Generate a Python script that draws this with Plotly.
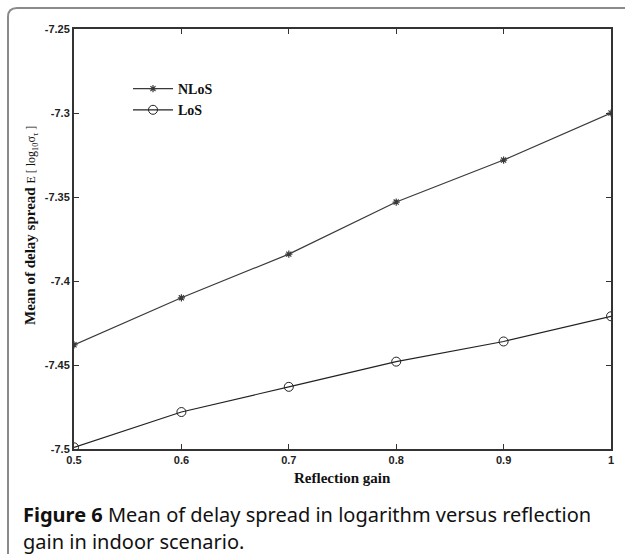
import plotly.graph_objects as go

# Reflection gain sweep and mean log delay spread
reflection_gain = [0.5, 0.6, 0.7, 0.8, 0.9, 1.0]
nlos_mean = [-7.438, -7.410, -7.384, -7.353, -7.328, -7.300]
los_mean = [-7.499, -7.478, -7.463, -7.448, -7.436, -7.421]

x_ticks = [0.5, 0.6, 0.7, 0.8, 0.9, 1.0]
x_tick_text = ["0.5", "0.6", "0.7", "0.8", "0.9", "1"]
y_ticks = [-7.5, -7.45, -7.4, -7.35, -7.3, -7.25]
y_tick_text = ["-7.5", "-7.45", "-7.4", "-7.35", "-7.3", "-7.25"]

W, H = 625, 554
L, R, T, B = 74, 14, 29, 105
pw, ph = W - L - R, H - T - B


def px_to_paper_x(px):
    return (px - L) / pw


def px_to_paper_y(py):
    return (H - B - py) / ph


def bold(labels):
    return [f"<b>{s}</b>" for s in labels]


fig = go.Figure()
fig.add_trace(go.Scatter(
    x=reflection_gain, y=nlos_mean, name="<b>NLoS</b>", mode="lines+markers",
    line=dict(color="#3a3a3a", width=1.2),
    marker=dict(symbol="asterisk-open", size=6, color="#3a3a3a",
                line=dict(color="#3a3a3a", width=1.2)),
))
fig.add_trace(go.Scatter(
    x=reflection_gain, y=los_mean, name="<b>LoS</b>", mode="lines+markers",
    line=dict(color="#222222", width=1.2),
    marker=dict(symbol="circle-open", size=9, color="#222222",
                line=dict(color="#222222", width=1)),
))

axis_common = dict(
    showgrid=False, zeroline=False, showline=True, linewidth=2,
    linecolor="#333333", mirror="ticks", ticks="inside", ticklen=5,
    tickwidth=1, tickcolor="#333333",
    tickfont=dict(family="Liberation Sans", size=11, color="#222222"),
)

fig.update_xaxes(range=[0.5, 1.0], tickvals=x_ticks,
                 ticktext=bold(x_tick_text), **axis_common)
fig.update_yaxes(range=[-7.5, -7.25], tickvals=y_ticks,
                 ticktext=bold(y_tick_text), **axis_common)

# Outer figure frame with a rounded top-left corner
x0 = px_to_paper_x(8)
x1 = px_to_paper_x(626)
yt = px_to_paper_y(8)
yb = px_to_paper_y(560)
rx = 9 / pw
ry = 9 / ph
frame_path = (f"M {x0},{yb} L {x0},{yt - ry} Q {x0},{yt} {x0 + rx},{yt} "
              f"L {x1},{yt}")

fig.update_layout(
    width=W, height=H,
    margin=dict(l=L, r=R, t=T, b=B),
    paper_bgcolor="white", plot_bgcolor="white",
    showlegend=True,
    legend=dict(
        x=px_to_paper_x(128), y=px_to_paper_y(73), xanchor="left",
        yanchor="top", bgcolor="rgba(0,0,0,0)", borderwidth=0,
        font=dict(family="Liberation Serif", size=14, color="#111111"),
        tracegroupgap=0, itemwidth=40,
    ),
    shapes=[dict(type="path", path=frame_path, xref="paper", yref="paper",
                 line=dict(color="#8a8a8a", width=2))],
    annotations=[
        dict(
            text=("<b>Mean of delay spread</b> "
                  "<span style='font-size:12px'>E [ log<sub>10</sub>σ<sub>τ</sub> ]</span>"),
            x=px_to_paper_x(31), y=px_to_paper_y(226), xref="paper",
            yref="paper", textangle=-90, showarrow=False,
            xanchor="center", yanchor="middle",
            font=dict(family="Liberation Serif", size=15, color="#111111"),
        ),
        dict(
            text="<b>Reflection gain</b>",
            x=0.5, y=px_to_paper_y(478), xref="paper", yref="paper",
            showarrow=False, xanchor="center", yanchor="middle",
            font=dict(family="Liberation Serif", size=15, color="#111111"),
        ),
        dict(
            text="<b>Figure 6</b> Mean of delay spread in logarithm versus reflection",
            x=px_to_paper_x(21), y=px_to_paper_y(514), xref="paper",
            yref="paper", showarrow=False, xanchor="left", yanchor="middle",
            font=dict(family="Noto Sans", size=20, color="#111111"),
        ),
        dict(
            text="gain in indoor scenario.",
            x=px_to_paper_x(21), y=px_to_paper_y(541), xref="paper",
            yref="paper", showarrow=False, xanchor="left", yanchor="middle",
            font=dict(family="Noto Sans", size=20, color="#111111"),
        ),
    ],
)

fig.write_html("out.html")
